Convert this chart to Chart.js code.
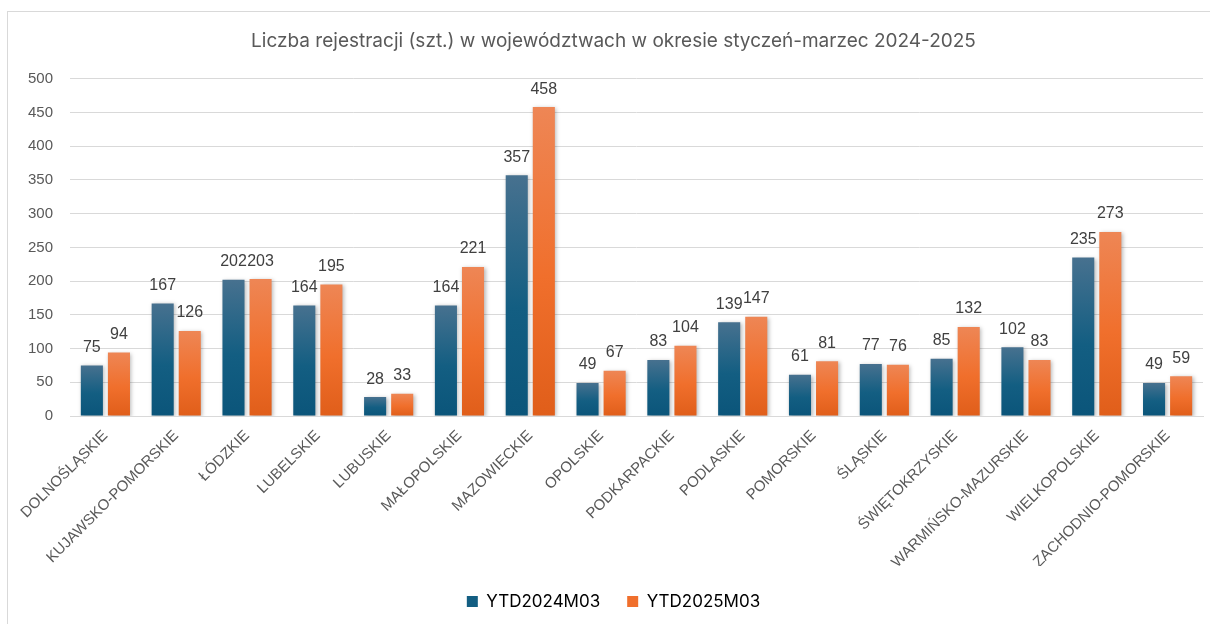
<!DOCTYPE html>
<html lang="pl">
<head>
    <meta charset="UTF-8" />
    <title>Liczba rejestracji w województwach</title>
    <script src="https://cdn.jsdelivr.net/npm/chart.js"></script>
    <style>
        html, body { margin: 0; padding: 0; background: #fff; overflow: hidden; }
        .frame { position: absolute; left: 7px; top: 11px; width: 1220px; height: 640px; border: 1px solid #d9d9d9; }
        .wrap { position: absolute; left: 0; top: 0; width: 1210px; height: 624px; }
    </style>
</head>
<body>
<div class="frame"></div>
<div class="wrap"><canvas id="chart" width="1210" height="624"></canvas></div>

<script>
    // categories (województwa)
    const regions = [
        'DOLNOŚLĄSKIE', 'KUJAWSKO-POMORSKIE', 'ŁÓDZKIE', 'LUBELSKIE', 'LUBUSKIE',
        'MAŁOPOLSKIE', 'MAZOWIECKIE', 'OPOLSKIE', 'PODKARPACKIE', 'PODLASKIE',
        'POMORSKIE', 'ŚLĄSKIE', 'ŚWIĘTOKRZYSKIE', 'WARMIŃSKO-MAZURSKIE',
        'WIELKOPOLSKIE', 'ZACHODNIO-POMORSKIE'
    ];
    const ytd2024 = [75, 167, 202, 164, 28, 164, 357, 49, 83, 139, 61, 77, 85, 102, 235, 49];
    const ytd2025 = [94, 126, 203, 195, 33, 221, 458, 67, 104, 147, 81, 76, 132, 83, 273, 59];
    const seriesNames = ['YTD2024M03', 'YTD2025M03'];
    const yMax = 500;
    const yStep = 50;

    // per-bar vertical gradient, lighter at the top
    function barGradient(top, bottom, solid) {
        return ctx => {
            const chart = ctx.chart;
            if (!chart.chartArea || ctx.raw === undefined) return solid;
            const y = chart.scales.y;
            const y0 = y.getPixelForValue(ctx.raw);
            const y1 = y.getPixelForValue(0);
            if (!(y1 > y0)) return solid;
            const g = chart.ctx.createLinearGradient(0, y0, 0, y1);
            g.addColorStop(0, top);
            g.addColorStop(0.55, solid);
            g.addColorStop(1, bottom);
            return g;
        };
    }

    const barDecor = {
        id: 'barDecor',
        beforeDatasetsDraw(chart) {
            const c = chart.ctx;
            c.save();
            c.shadowColor = 'rgba(0,0,0,0.28)';
            c.shadowBlur = 4;
            c.shadowOffsetX = 1.5;
            c.shadowOffsetY = 1;
        },
        afterDatasetsDraw(chart) {
            const c = chart.ctx;
            c.restore();
            c.save();
            c.font = '16px "Liberation Sans", Arial, sans-serif';
            c.fillStyle = '#404040';
            c.textAlign = 'center';
            c.textBaseline = 'middle';
            chart.data.datasets.forEach((ds, i) => {
                chart.getDatasetMeta(i).data.forEach((bar, j) => {
                    c.fillText(String(ds.data[j]), bar.x, bar.y - 18);
                });
            });
            c.restore();
        }
    };

    new Chart(document.getElementById('chart'), {
        type: 'bar',
        data: {
            labels: regions,
            datasets: [
                {
                    label: seriesNames[0],
                    data: ytd2024,
                    backgroundColor: barGradient('#47718f', '#0b557a', '#135e82'),
                    categoryPercentage: 0.765,
                    barPercentage: 0.815
                },
                {
                    label: seriesNames[1],
                    data: ytd2025,
                    backgroundColor: barGradient('#ee8655', '#e05e1a', '#f06f2c'),
                    categoryPercentage: 0.765,
                    barPercentage: 0.815
                }
            ]
        },
        options: {
            responsive: false,
            animation: false,
            layout: { padding: { left: 24, right: 7, top: 0, bottom: 4 } },
            plugins: {
                title: {
                    display: true,
                    text: 'Liczba rejestracji (szt.) w województwach w okresie styczeń-marzec 2024-2025',
                    color: '#595959',
                    font: { family: 'Inter, "Open Sans", sans-serif', size: 19, weight: 'normal' },
                    padding: { top: 30, bottom: 26 }
                },
                legend: {
                    position: 'bottom',
                    labels: {
                        color: '#595959',
                        boxWidth: 11,
                        boxHeight: 11,
                        padding: 27,
                        font: { family: 'Inter, "Open Sans", sans-serif', size: 17 },
                        generateLabels: chart => chart.data.datasets.map((ds, i) => ({
                            text: ds.label,
                            fillStyle: i === 0 ? '#135e82' : '#f06f2c',
                            strokeStyle: 'rgba(0,0,0,0)',
                            lineWidth: 0,
                            datasetIndex: i
                        }))
                    }
                },
                tooltip: { enabled: false }
            },
            scales: {
                x: {
                    grid: { display: false, drawTicks: false },
                    border: { color: '#d9d9d9' },
                    ticks: {
                        color: '#595959',
                        autoSkip: false,
                        minRotation: 45,
                        maxRotation: 45,
                        padding: 11,
                        font: { family: '"Liberation Sans", Arial, sans-serif', size: 15 }
                    },
                    afterFit: s => { s.height = 150; }
                },
                y: {
                    min: 0,
                    max: yMax,
                    grid: { color: '#d9d9d9', drawTicks: false },
                    border: { display: false },
                    ticks: {
                        stepSize: yStep,
                        color: '#595959',
                        padding: 17,
                        font: { family: '"Liberation Sans", Arial, sans-serif', size: 15 }
                    },
                    afterFit: s => { s.width = 46; }
                }
            }
        },
        plugins: [barDecor]
    });
</script>
</body>
</html>
